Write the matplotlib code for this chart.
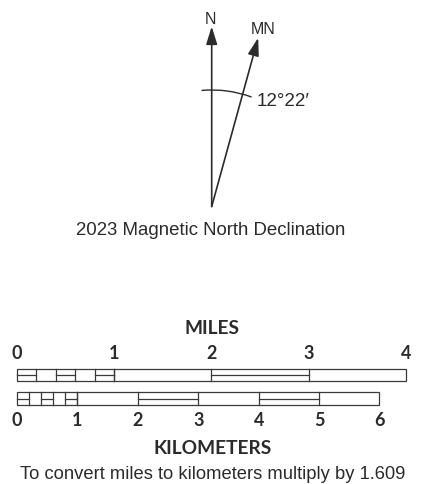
import numpy as np
import matplotlib.pyplot as plt
from matplotlib.patches import Rectangle, Arc, FancyArrowPatch

# --- data ---
declination_label = "12°22′"
caption = "2023 Magnetic North Declination"
mile_ticks = [0, 1, 2, 3, 4]
km_ticks = [0, 1, 2, 3, 4, 5, 6]
# first unit split into fifths, alternating split / plain
first_unit_parts = [0.0, 0.2, 0.4, 0.6, 0.8, 1.0]
first_unit_split = [True, False, True, False, True]
mile_split = [None, False, True, False]      # units 1-2, 2-3, 3-4
km_split = [None, False, True, False, True, False]
km_per_mile = 1.609
note = "To convert miles to kilometers multiply by 1.609"

# --- layout (pixel canvas) ---
W, H = 421, 485
x0 = 17.0
px_mile = 97.2
px_km = px_mile / km_per_mile
ink = '#2b2b2b'
bar_ink = '#3a3a3a'
helv = ['Liberation Sans', 'DejaVu Sans']
gill = ['Lato', 'DejaVu Sans']

fig = plt.figure(figsize=(W / 100, H / 100), dpi=100)
ax = fig.add_axes([0, 0, 1, 1])
ax.set_xlim(0, W)
ax.set_ylim(H, 0)
ax.axis('off')

# --- compass ---
ox, oy = 211.7, 207.5
n_len = 180.0
mn_len = 175.0
draw_angle = np.radians(15.4)
arrow_kw = dict(arrowstyle='-|>,head_length=0.9,head_width=0.28',
                color=ink, lw=1.2, mutation_scale=12, shrinkA=0, shrinkB=0)
ax.add_patch(FancyArrowPatch((ox, oy), (ox, oy - n_len), **arrow_kw))
ax.add_patch(FancyArrowPatch((ox, oy),
                             (ox + mn_len * np.sin(draw_angle), oy - mn_len * np.cos(draw_angle)),
                             **arrow_kw))
# y axis is inverted, so "up" on screen is theta = 270
r = 116.5
ax.add_patch(Arc((ox, oy), 2 * r, 2 * r, angle=0, theta1=265, theta2=290,
                 color=ink, lw=1.0))
ax.text(ox - 1, 19, "N", ha='center', va='center', fontsize=11.5, family=helv, color=ink)
ax.text(263.5, 30, "MN", ha='center', va='center', fontsize=11.5, family=helv, color=ink)
ax.text(257, 101, declination_label, ha='left', va='center', fontsize=13.5,
        family=helv, color=ink)
ax.text(211, 231, caption, ha='center', va='center', fontsize=13.4, family=helv, color=ink)


# --- scale bars ---
def draw_bar(ticks, splits, px_unit, top, bottom):
    mid = (top + bottom) / 2
    n = ticks[-1]
    ax.add_patch(Rectangle((x0, top), n * px_unit, bottom - top, fill=False,
                           ec=bar_ink, lw=0.9))
    for a, b, s in zip(first_unit_parts[:-1], first_unit_parts[1:], first_unit_split):
        xa, xb = x0 + a * px_unit, x0 + b * px_unit
        ax.plot([xb, xb], [top, bottom], color=bar_ink, lw=0.9)
        if s:
            ax.plot([xa, xb], [mid, mid], color=bar_ink, lw=0.9)
    for u in range(1, n):
        xa, xb = x0 + u * px_unit, x0 + (u + 1) * px_unit
        ax.plot([xa, xa], [top, bottom], color=bar_ink, lw=0.9)
        if splits[u]:
            ax.plot([xa, xb], [mid, mid], color=bar_ink, lw=0.9)


draw_bar(mile_ticks, mile_split, px_mile, 369.5, 381.5)
draw_bar(km_ticks, km_split, px_km, 393, 406)

for m in mile_ticks:
    ax.text(x0 + m * px_mile, 354, str(m), ha='center', va='center', fontsize=13,
            fontweight='bold', family=gill, color=ink)
for k in km_ticks:
    ax.text(x0 + k * px_km, 421, str(k), ha='center', va='center', fontsize=13,
            fontweight='bold', family=gill, color=ink)
ax.text(212.5, 329, "MILES", ha='center', va='center', fontsize=13.8,
        fontweight='bold', family=gill, color=ink)
ax.text(212.7, 448.5, "KILOMETERS", ha='center', va='center', fontsize=13.8,
        fontweight='bold', family=gill, color=ink)
ax.text(213, 475, note, ha='center', va='center', fontsize=13.2, family=helv, color=ink)

fig.savefig('out.png', dpi=100, facecolor='white')
